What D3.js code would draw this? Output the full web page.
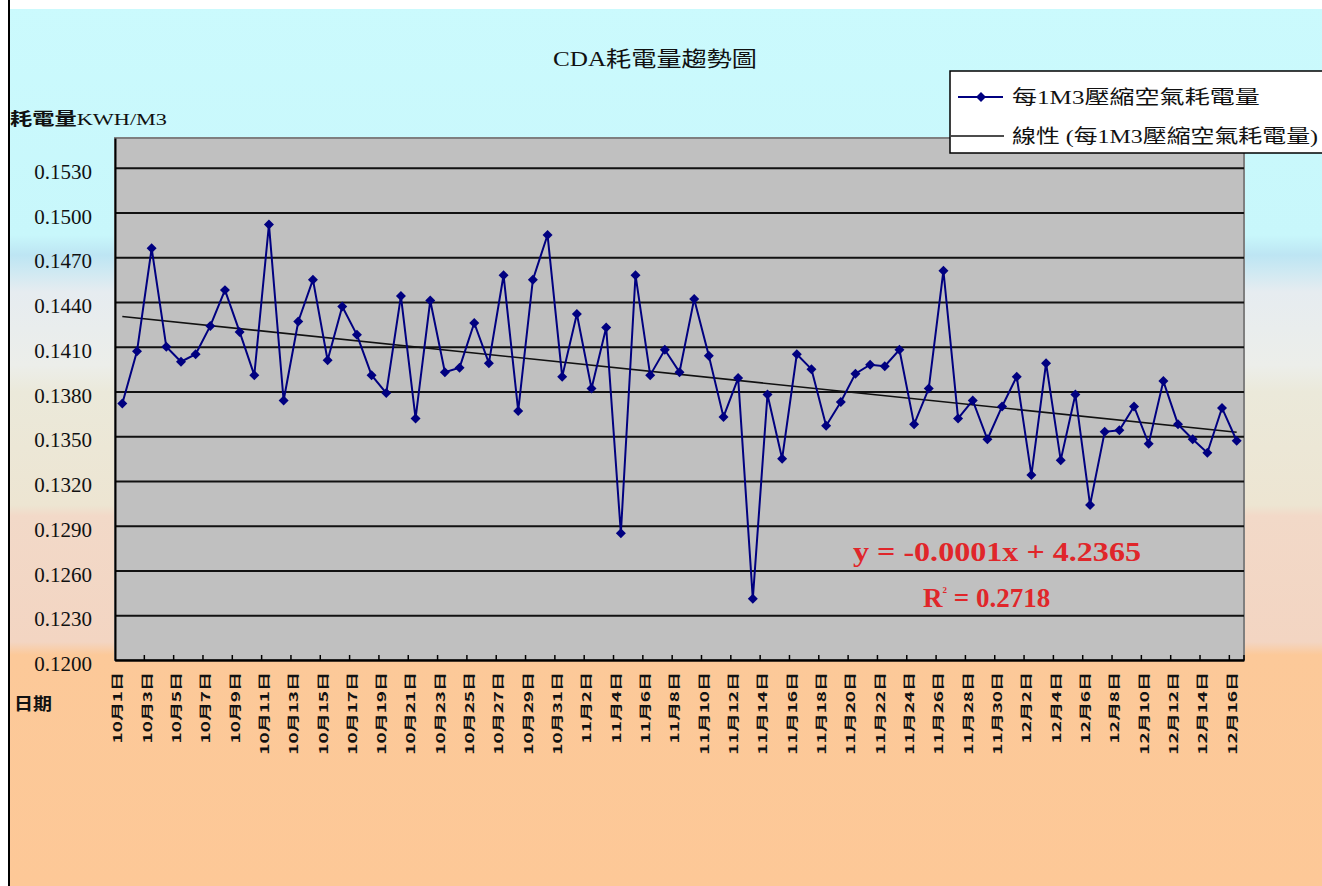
<!DOCTYPE html>
<html>
<head>
<meta charset="utf-8">
<script src="https://cdn.jsdelivr.net/npm/d3@7"></script>
<style>
  body { margin: 0; background: #fff; }
  svg { display: block; }
</style>
</head>
<body>
<div id="chart"></div>
<script>
// category labels (one per day, 10/1 - 12/16)
const dates = [
  "10月1日","10月2日","10月3日","10月4日","10月5日","10月6日","10月7日","10月8日","10月9日","10月10日",
  "10月11日","10月12日","10月13日","10月14日","10月15日","10月16日","10月17日","10月18日","10月19日","10月20日",
  "10月21日","10月22日","10月23日","10月24日","10月25日","10月26日","10月27日","10月28日","10月29日","10月30日",
  "10月31日","11月1日","11月2日","11月3日","11月4日","11月5日","11月6日","11月7日","11月8日","11月9日",
  "11月10日","11月11日","11月12日","11月13日","11月14日","11月15日","11月16日","11月17日","11月18日","11月19日",
  "11月20日","11月21日","11月22日","11月23日","11月24日","11月25日","11月26日","11月27日","11月28日","11月29日",
  "11月30日","12月1日","12月2日","12月3日","12月4日","12月5日","12月6日","12月7日","12月8日","12月9日",
  "12月10日","12月11日","12月12日","12月13日","12月14日","12月15日","12月16日"
];

// 每1M3壓縮空氣耗電量 (KWH/M3)
const values = [
  0.1372, 0.1407, 0.1476, 0.1410, 0.1400, 0.1405, 0.1424, 0.1448, 0.1420, 0.1391,
  0.1492, 0.1374, 0.1427, 0.1455, 0.1401, 0.1437, 0.1418, 0.1391, 0.1379, 0.1444,
  0.1362, 0.1441, 0.1393, 0.1396, 0.1426, 0.1399, 0.1458, 0.1367, 0.1455, 0.1485,
  0.1390, 0.1432, 0.1382, 0.1423, 0.1285, 0.1458, 0.1391, 0.1408, 0.1393, 0.1442,
  0.1404, 0.1363, 0.1389, 0.1241, 0.1378, 0.1335, 0.1405, 0.1395, 0.1357, 0.1373,
  0.1392, 0.1398, 0.1397, 0.1408, 0.1358, 0.1382, 0.1461, 0.1362, 0.1374, 0.1348,
  0.1370, 0.1390, 0.1324, 0.1399, 0.1334, 0.1378, 0.1304, 0.1353, 0.1354, 0.1370,
  0.1345, 0.1387, 0.1358, 0.1348, 0.1339, 0.1369, 0.1347
];

const yTicks = [0.1200, 0.1230, 0.1260, 0.1290, 0.1320, 0.1350, 0.1380, 0.1410, 0.1440, 0.1470, 0.1500, 0.1530];
const yDomain = [0.12, 0.155];

const chartTitle = "CDA耗電量趨勢圖";
const seriesName = "每1M3壓縮空氣耗電量";
const trendName = "線性 (每1M3壓縮空氣耗電量)";
const equationText = "y = -0.0001x + 4.2365";
const r2Value = "0.2718";

const W = 1322, H = 886;
const plot = { left: 115, right: 1244, top: 138, bottom: 660 };
const latin = "'Liberation Serif','Noto Sans CJK TC',serif";
const cjk = "'Noto Sans CJK TC','Liberation Serif',sans-serif";

const svg = d3.select("#chart").append("svg")
  .attr("width", W)
  .attr("height", H);

// background bands
const grad = svg.append("defs").append("linearGradient")
  .attr("id", "bg")
  .attr("gradientUnits", "userSpaceOnUse")
  .attr("x1", 0).attr("y1", 0).attr("x2", 0).attr("y2", H);
[
  [0, "#cbfafd"], [235, "#c8f7fb"], [255, "#bde5f3"], [272, "#cfe9f2"],
  [292, "#e6ecf0"], [365, "#eceeea"], [392, "#ebe9da"], [505, "#ede5d2"],
  [516, "#f2d9c8"], [642, "#f3d5c2"], [655, "#fcc999"], [H, "#fdc897"]
].forEach(s => grad.append("stop").attr("offset", s[0] / H).attr("stop-color", s[1]));

svg.append("rect").attr("width", W).attr("height", H).attr("fill", "#fff");
svg.append("rect").attr("x", 9).attr("y", 9).attr("width", W - 9).attr("height", H - 9).attr("fill", "url(#bg)");
svg.append("line").attr("x1", 9).attr("x2", 9).attr("y1", 0).attr("y2", H)
  .attr("stroke", "#000").attr("stroke-width", 2);

// scales
const x = d3.scaleBand().domain(dates).range([plot.left, plot.right]).padding(0);
const y = d3.scaleLinear().domain(yDomain).range([plot.bottom, plot.top]);
const cx = d => x(d) + x.bandwidth() / 2;

// plot area
svg.append("rect")
  .attr("x", plot.left).attr("y", plot.top)
  .attr("width", plot.right - plot.left).attr("height", plot.bottom - plot.top)
  .attr("fill", "#c0c0c0")
  .attr("stroke", "#7f7f7f").attr("stroke-width", 2);

// gridlines
svg.append("g")
  .attr("transform", `translate(${plot.left},0)`)
  .call(d3.axisLeft(y).tickValues(yTicks).tickSize(-(plot.right - plot.left)).tickFormat(""))
  .call(g => g.select(".domain").remove())
  .selectAll("line").attr("stroke", "#111").attr("stroke-width", 2);

// y axis labels
const yAxis = svg.append("g")
  .attr("transform", `translate(${plot.left},0)`)
  .call(d3.axisLeft(y).tickValues(yTicks).tickSize(0).tickPadding(23).tickFormat(d3.format(".4f")));
yAxis.select(".domain").attr("stroke", "#000").attr("stroke-width", 2);
yAxis.selectAll("text")
  .attr("font-family", latin).attr("font-size", 21).attr("fill", "#111")
  .attr("dy", "0.5em");

// x axis
const evenDates = dates.filter((d, i) => i % 2 === 0);
const xAxis = svg.append("g")
  .attr("transform", `translate(0,${plot.bottom})`)
  .call(d3.axisBottom(x).tickValues(evenDates).tickSize(0));
xAxis.select(".domain").attr("stroke", "#000").attr("stroke-width", 2);
xAxis.selectAll("text")
  .attr("x", 0).attr("y", 0).attr("dy", null)
  .attr("transform", "translate(-5,12) rotate(-90) scale(1.58,1)")
  .attr("text-anchor", "end")
  .attr("dominant-baseline", "central")
  .attr("font-family", cjk).attr("font-weight", "bold").attr("font-size", 12).attr("fill", "#111");

// small tick marks between every other category
xAxis.selectAll(".minor")
  .data(evenDates.slice(1).concat([null]))
  .enter().append("line")
  .attr("x1", d => d ? x(d) : plot.right).attr("x2", d => d ? x(d) : plot.right)
  .attr("y1", 0).attr("y2", -5)
  .attr("stroke", "#000").attr("stroke-width", 1.5);

// linear trend (least squares on index)
const n = values.length;
const mx = d3.mean(values, (v, i) => i);
const my = d3.mean(values);
const slope = d3.sum(values, (v, i) => (i - mx) * (v - my)) / d3.sum(values, (v, i) => (i - mx) * (i - mx));
const icpt = my - slope * mx;
svg.append("line")
  .attr("x1", cx(dates[0])).attr("y1", y(icpt))
  .attr("x2", cx(dates[n - 1])).attr("y2", y(icpt + slope * (n - 1)))
  .attr("stroke", "#111").attr("stroke-width", 1.6);

// series
const line = d3.line().x((v, i) => cx(dates[i])).y(v => y(v));
svg.append("path")
  .datum(values)
  .attr("d", line)
  .attr("fill", "none")
  .attr("stroke", "#000080")
  .attr("stroke-width", 2);

const diamond = d3.symbol().type(d3.symbolSquare).size(50);
svg.selectAll(".pt")
  .data(values)
  .enter().append("path")
  .attr("class", "pt")
  .attr("d", diamond)
  .attr("transform", (v, i) => `translate(${cx(dates[i])},${y(v)}) rotate(45)`)
  .attr("fill", "#000080");

// equation
svg.append("text")
  .attr("x", 853).attr("y", 561)
  .attr("textLength", 288).attr("lengthAdjust", "spacingAndGlyphs")
  .attr("font-family", latin).attr("font-weight", "bold").attr("font-size", 27)
  .attr("fill", "#e0262a")
  .text(equationText);

const r2 = svg.append("text")
  .attr("x", 923).attr("y", 607)
  .attr("font-family", latin).attr("font-weight", "bold").attr("font-size", 27)
  .attr("fill", "#e0262a");
r2.append("tspan").text("R");
r2.append("tspan").attr("font-size", 9).attr("dy", -14).text("2");
r2.append("tspan").attr("dy", 14).text(" = " + r2Value);

// titles
svg.append("text")
  .attr("x", 553).attr("y", 66)
  .attr("textLength", 204).attr("lengthAdjust", "spacingAndGlyphs")
  .attr("font-family", latin).attr("font-size", 21).attr("fill", "#111")
  .text(chartTitle);

const yTitle = svg.append("text")
  .attr("x", 10).attr("y", 125)
  .attr("textLength", 157).attr("lengthAdjust", "spacingAndGlyphs")
  .attr("font-size", 17).attr("fill", "#111");
yTitle.append("tspan").attr("font-family", cjk).attr("font-weight", "bold").text("耗電量");
yTitle.append("tspan").attr("font-family", latin).text("KWH/M3");

svg.append("text")
  .attr("x", 14).attr("y", 710)
  .attr("textLength", 38).attr("lengthAdjust", "spacingAndGlyphs")
  .attr("font-family", cjk).attr("font-weight", "bold").attr("font-size", 17).attr("fill", "#111")
  .text("日期");

// legend
const legend = svg.append("g");
legend.append("rect")
  .attr("x", 950).attr("y", 71).attr("width", 400).attr("height", 82)
  .attr("fill", "#fff").attr("stroke", "#000").attr("stroke-width", 1.5);

legend.append("line")
  .attr("x1", 958).attr("x2", 1003).attr("y1", 97).attr("y2", 97)
  .attr("stroke", "#000080").attr("stroke-width", 2);
legend.append("path")
  .attr("d", diamond)
  .attr("transform", "translate(981,97) rotate(45)")
  .attr("fill", "#000080");
const lt1 = legend.append("text")
  .attr("x", 1012).attr("y", 104)
  .attr("font-family", latin).attr("font-size", 19).attr("fill", "#111")
  .text(seriesName);

legend.append("line")
  .attr("x1", 951).attr("x2", 1004).attr("y1", 136).attr("y2", 136)
  .attr("stroke", "#111").attr("stroke-width", 1.6);
// second row is squeezed so it stays inside the picture
legend.append("text")
  .attr("x", 1012).attr("y", 143)
  .attr("textLength", 306).attr("lengthAdjust", "spacingAndGlyphs")
  .attr("font-family", latin).attr("font-size", 19).attr("fill", "#111")
  .text(trendName);

// first row is stretched sideways like the rest of the labels
const sx = 248 / lt1.node().getComputedTextLength();
lt1.attr("transform", `translate(${1012 * (1 - sx)},0) scale(${sx},1)`);
</script>
</body>
</html>
